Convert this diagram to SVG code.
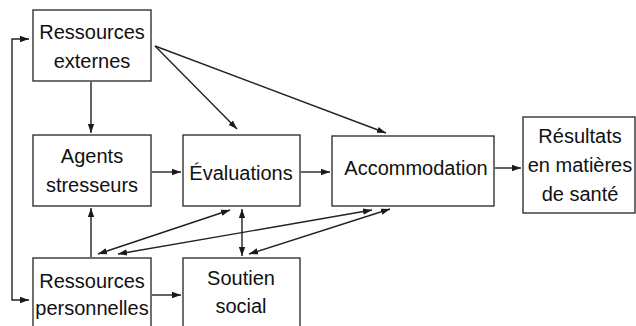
<svg xmlns="http://www.w3.org/2000/svg" width="636" height="326" viewBox="0 0 636 326">
<defs>
<marker id="a" viewBox="0 0 10 10" refX="10" refY="5" markerWidth="9" markerHeight="9" markerUnits="userSpaceOnUse" orient="auto-start-reverse">
<path d="M0,1.5 L10,5 L0,8.5 Z" fill="#1a1a1a"/>
</marker>
<style>
.box{fill:#fff;stroke:#333;stroke-width:1.4}
.t{font-family:"Liberation Sans",Arial,sans-serif;font-size:20px;fill:#111;text-anchor:middle}
.c{fill:none;stroke:#222;stroke-width:1.4}
</style>
</defs>
<rect width="636" height="326" fill="#fff"/>
<g id="connectors">
<polyline class="c" points="29,39 12,39 12,300 29,300" marker-start="url(#a)" marker-end="url(#a)"/>
<line class="c" x1="91" y1="82" x2="91" y2="133" marker-end="url(#a)"/>
<line class="c" x1="155" y1="46" x2="237" y2="129" marker-end="url(#a)"/>
<line class="c" x1="155" y1="46" x2="386" y2="133" marker-end="url(#a)"/>
<line class="c" x1="152" y1="172" x2="181" y2="172" marker-end="url(#a)"/>
<line class="c" x1="301" y1="172" x2="330" y2="172" marker-end="url(#a)"/>
<line class="c" x1="495" y1="168" x2="521" y2="168" marker-end="url(#a)"/>
<line class="c" x1="91" y1="257" x2="91" y2="208" marker-end="url(#a)"/>
<line class="c" x1="152" y1="295" x2="181" y2="295" marker-end="url(#a)"/>
<line class="c" x1="242" y1="209" x2="242" y2="256" marker-start="url(#a)" marker-end="url(#a)"/>
<line class="c" x1="230" y1="210" x2="98" y2="254" marker-start="url(#a)" marker-end="url(#a)"/>
<line class="c" x1="372" y1="210" x2="118" y2="254" marker-start="url(#a)" marker-end="url(#a)"/>
<line class="c" x1="390" y1="209" x2="249" y2="254" marker-start="url(#a)" marker-end="url(#a)"/>
</g>
<g id="ressources-externes">
<rect class="box" x="33" y="10" width="118" height="71"/>
<text class="t" x="92" y="39">Ressources</text>
<text class="t" x="92" y="68">externes</text>
</g>
<g id="agents-stresseurs">
<rect class="box" x="33" y="135" width="118" height="71"/>
<text class="t" x="92" y="163">Agents</text>
<text class="t" x="92" y="192">stresseurs</text>
</g>
<g id="evaluations">
<rect class="box" x="183" y="135" width="117" height="71"/>
<text class="t" x="241" y="180">Évaluations</text>
</g>
<g id="accommodation">
<rect class="box" x="332" y="136" width="162" height="70"/>
<text class="t" x="416" y="175">Accommodation</text>
</g>
<g id="resultats">
<rect class="box" x="523" y="117" width="112" height="96"/>
<text class="t" x="580" y="143">Résultats</text>
<text class="t" x="580" y="172">en matières</text>
<text class="t" x="580" y="201">de santé</text>
</g>
<g id="ressources-personnelles">
<rect class="box" x="33" y="258" width="118" height="80"/>
<text class="t" x="92" y="288">Ressources</text>
<text class="t" x="92" y="315">personnelles</text>
</g>
<g id="soutien-social">
<rect class="box" x="183" y="258" width="117" height="80"/>
<text class="t" x="241" y="285">Soutien</text>
<text class="t" x="241" y="313">social</text>
</g>
</svg>
